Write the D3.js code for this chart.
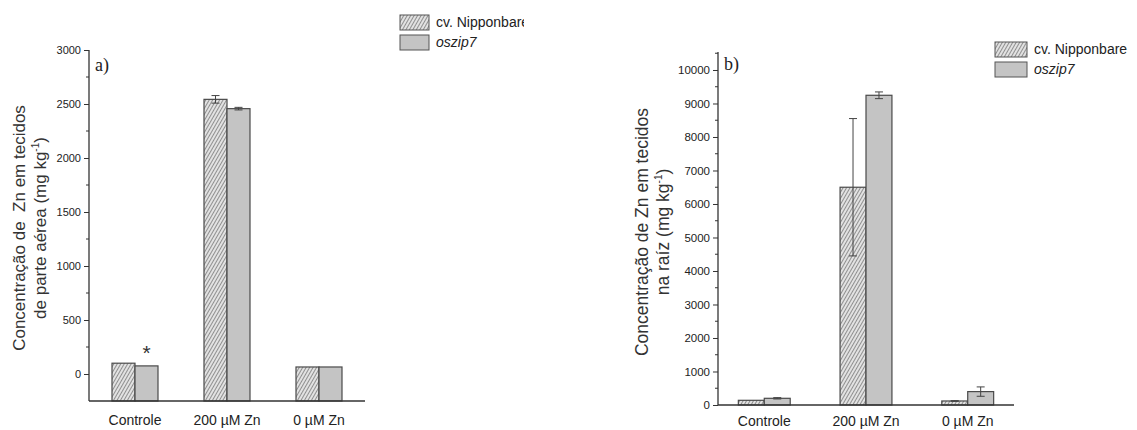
<!DOCTYPE html>
<html>
<head>
<meta charset="utf-8">
<script src="https://cdn.jsdelivr.net/npm/d3@7"></script>
<style>
  body { margin: 0; background: #fff; }
  svg { display: block; }
  .tick text { font-family: "Liberation Sans", Arial, sans-serif; fill: #222; }
  .cat { font-family: "Liberation Sans", Arial, sans-serif; font-size: 14px; fill: #222; }
  .ytitle { font-family: "Liberation Sans", Arial, sans-serif; fill: #333; }
  .legend { font-family: "Liberation Sans", Arial, sans-serif; font-size: 14px; fill: #222; }
  .panel { font-family: "Liberation Serif", "Times New Roman", serif; font-size: 18px; fill: #222; }
</style>
</head>
<body>
<div id="chart"></div>
<script>
const width = 1137;
const height = 430;

const categories = ["Controle", "200 µM Zn", "0 µM Zn"];
const seriesNames = ["cv. Nipponbare", "oszip7"];

// painel a) parte aérea
const shootNippon = [100, 2543, 65];
const shootNipponErr = [0, 35, 0];
const shootZip7 = [75, 2457, 65];
const shootZip7Err = [0, 12, 0];
const shootTicks = [0, 500, 1000, 1500, 2000, 2500, 3000];

// painel b) raiz
const rootNippon = [140, 6500, 120];
const rootNipponErr = [0, 2050, 10];
const rootZip7 = [200, 9245, 400];
const rootZip7Err = [20, 100, 140];
const rootTicks = [0, 1000, 2000, 3000, 4000, 5000, 6000, 7000, 8000, 9000, 10000];

const svg = d3.select("#chart")
    .append("svg")
    .attr("width", width)
    .attr("height", height);

const defs = svg.append("defs");
const hatch = defs.append("pattern")
    .attr("id", "hatch")
    .attr("patternUnits", "userSpaceOnUse")
    .attr("width", 3)
    .attr("height", 3)
    .attr("patternTransform", "rotate(30)");
hatch.append("rect").attr("width", 3).attr("height", 3).attr("fill", "#e2e2e2");
hatch.append("line")
    .attr("x1", 0).attr("y1", 0).attr("x2", 0).attr("y2", 3)
    .attr("stroke", "#4a4a4a").attr("stroke-width", 1.1);

defs.append("clipPath").attr("id", "clipA")
    .append("rect").attr("x", 0).attr("y", 0).attr("width", 524).attr("height", height);

function drawPanel(opt) {
    const g = svg.append("g").attr("clip-path", opt.clip ? `url(#${opt.clip})` : null);

    const y = d3.scaleLinear().domain(opt.yDomain).range([opt.bottom, opt.top]);
    const x = d3.scaleBand().domain(categories).range([opt.left, opt.right]).paddingInner(opt.padIn).paddingOuter(opt.padOut);
    const xs = d3.scaleBand().domain(seriesNames).range([0, x.bandwidth()]);

    const rows = categories.map((c, i) => ({
        cat: c,
        vals: [
            { s: seriesNames[0], v: opt.nippon[i], e: opt.nipponErr[i] },
            { s: seriesNames[1], v: opt.zip7[i], e: opt.zip7Err[i] }
        ]
    }));

    const baseVal = opt.yDomain[0];

    const groups = g.selectAll(".grp-" + opt.id)
        .data(rows)
        .enter().append("g")
        .attr("transform", d => `translate(${x(d.cat)},0)`);

    groups.selectAll("rect")
        .data(d => d.vals)
        .enter().append("rect")
        .attr("x", d => xs(d.s))
        .attr("width", xs.bandwidth())
        .attr("y", d => y(d.v))
        .attr("height", d => y(baseVal) - y(d.v))
        .attr("fill", d => d.s === seriesNames[0] ? "url(#hatch)" : "#c4c4c4")
        .attr("stroke", "#4a4a4a")
        .attr("stroke-width", 1.2);

    // barras de erro
    const eb = groups.selectAll(".err")
        .data(d => d.vals.filter(v => v.e > 0))
        .enter().append("g");
    eb.append("line")
        .attr("x1", d => xs(d.s) + xs.bandwidth() / 2)
        .attr("x2", d => xs(d.s) + xs.bandwidth() / 2)
        .attr("y1", d => y(d.v - d.e))
        .attr("y2", d => y(d.v + d.e))
        .attr("stroke", "#444").attr("stroke-width", 1);
    eb.selectAll(".cap")
        .data(d => [d.v - d.e, d.v + d.e].map(t => ({ t, d })))
        .enter().append("line")
        .attr("x1", k => xs(k.d.s) + xs.bandwidth() / 2 - 4)
        .attr("x2", k => xs(k.d.s) + xs.bandwidth() / 2 + 4)
        .attr("y1", k => y(k.t))
        .attr("y2", k => y(k.t))
        .attr("stroke", "#444").attr("stroke-width", 1);

    // eixo y
    const yAxis = d3.axisLeft(y).tickValues(opt.ticks).tickSize(5).tickPadding(3).tickFormat(d3.format("d"));
    const ya = g.append("g").attr("transform", `translate(${opt.left},0)`).call(yAxis);
    ya.select(".domain").attr("d", `M0,${y(opt.yDomain[0])}V${y(opt.yDomain[1])}`).attr("stroke", "#333").attr("stroke-width", 1.3);
    ya.selectAll(".tick line").attr("stroke", "#333");
    ya.selectAll(".tick text").attr("font-size", opt.tickSize + "px");
    ya.selectAll(".minor")
        .data(opt.minor)
        .enter().append("line")
        .attr("x1", -3).attr("x2", 0)
        .attr("y1", d => y(d)).attr("y2", d => y(d))
        .attr("stroke", "#333");

    // eixo x
    g.append("line")
        .attr("x1", opt.left).attr("x2", opt.right)
        .attr("y1", y(opt.yDomain[0])).attr("y2", y(opt.yDomain[0]))
        .attr("stroke", "#333").attr("stroke-width", 1.5);

    g.selectAll(".cat-" + opt.id)
        .data(categories)
        .enter().append("text")
        .attr("class", "cat")
        .attr("x", d => x(d) + x.bandwidth() / 2)
        .attr("y", opt.catY)
        .attr("text-anchor", "middle")
        .text(d => d);

    // titulo eixo y
    const t = g.append("text")
        .attr("class", "ytitle")
        .attr("font-size", opt.titleSize + "px")
        .attr("transform", `translate(${opt.titleX},${opt.titleY}) rotate(-90)`)
        .attr("text-anchor", "middle")
        .attr("xml:space", "preserve");
    t.append("tspan").attr("x", 0).attr("dy", 0).text(opt.title1);
    const l2 = t.append("tspan").attr("x", 0).attr("dy", opt.titleGap);
    l2.append("tspan").text(opt.title2);
    l2.append("tspan").attr("font-size", "10px").attr("dy", -7).text("-1");
    l2.append("tspan").attr("dy", 7).text(")");

    g.append("text").attr("class", "panel")
        .attr("x", opt.left + 6).attr("y", opt.top + opt.panelDy)
        .text(opt.panel);

    // legenda
    const lg = g.append("g").attr("transform", `translate(${opt.legX},${opt.legY})`);
    seriesNames.forEach((s, i) => {
        lg.append("rect")
            .attr("x", 0).attr("y", i * 20)
            .attr("width", opt.legW).attr("height", 15)
            .attr("fill", i === 0 ? "url(#hatch)" : "#c4c4c4")
            .attr("stroke", "#555").attr("stroke-width", 1);
        lg.append("text").attr("class", "legend")
            .attr("x", opt.legW + 7).attr("y", i * 20 + 12)
            .attr("font-style", i === 1 ? "italic" : null)
            .text(s);
    });

    return { x, xs, y, g };
}

const pa = drawPanel({
    id: "a", clip: "clipA",
    left: 89, right: 365, top: 50, bottom: 401,
    yDomain: [-250, 3000], ticks: shootTicks, tickSize: 11,
    minor: d3.range(-250, 3000, 500).filter(v => v > -250),
    padIn: 0.5, padOut: 0.25,
    nippon: shootNippon, nipponErr: shootNipponErr,
    zip7: shootZip7, zip7Err: shootZip7Err,
    catY: 425,
    titleX: 25, titleY: 228, titleSize: 17, titleGap: 21,
    title1: "Concentração de  Zn em tecidos",
    title2: "de parte aérea (mg kg",
    panel: "a)", panelDy: 21,
    legX: 400, legY: 15, legW: 29
});

// asterisco sobre oszip7 controle
pa.g.append("text")
    .attr("x", pa.x(categories[0]) + pa.xs(seriesNames[1]) + pa.xs.bandwidth() / 2)
    .attr("y", pa.y(shootZip7[0]) - 6)
    .attr("text-anchor", "middle")
    .attr("font-family", "Liberation Sans, sans-serif")
    .attr("font-size", "21px")
    .attr("fill", "#333")
    .text("*");

drawPanel({
    id: "b", clip: null,
    left: 718, right: 1014, top: 52, bottom: 405,
    yDomain: [0, 10537], ticks: rootTicks, tickSize: 11.5,
    minor: d3.range(500, 10537, 1000),
    padIn: 0.49, padOut: 0.2,
    nippon: rootNippon, nipponErr: rootNipponErr,
    zip7: rootZip7, zip7Err: rootZip7Err,
    catY: 426,
    titleX: 648, titleY: 232, titleSize: 17.5, titleGap: 21,
    title1: "Concentração de Zn em tecidos",
    title2: "na raíz (mg kg",
    panel: "b)", panelDy: 18,
    legX: 995, legY: 42, legW: 32
});
</script>
</body>
</html>
